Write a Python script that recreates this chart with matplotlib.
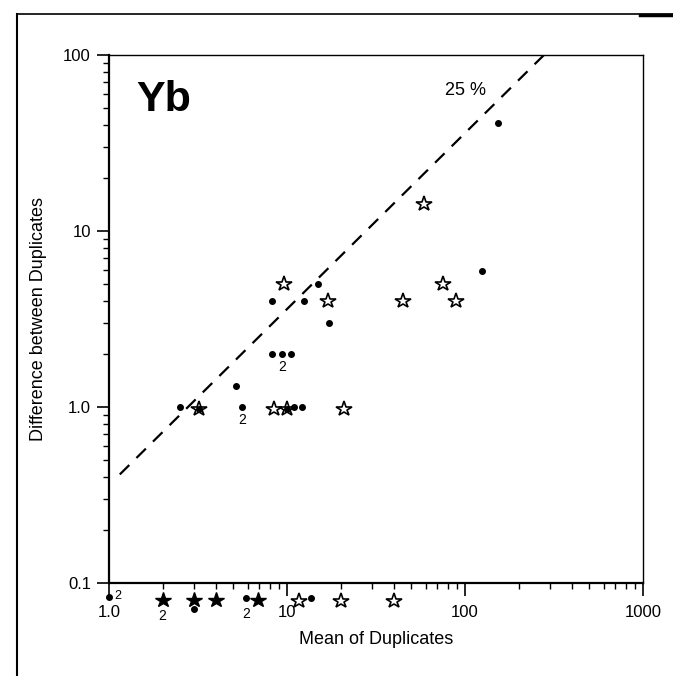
import numpy as np
import matplotlib.pyplot as plt
from matplotlib.lines import Line2D

plt.rcParams['font.family'] = ['Liberation Sans', 'DejaVu Sans']

# samples above detection limit (dots and open stars)
dot_x = [2.5, 5.6, 5.15, 8.2, 12.5, 15.0, 17.3, 8.2, 9.4, 10.5, 10.0, 11.0, 12.2, 125, 154, 3.2]
dot_y = [1.0, 1.0, 1.32, 4.0, 4.0, 5.0, 3.0, 2.0, 2.0, 2.0, 0.98, 1.0, 1.0, 5.9, 41, 0.98]
star_x = [3.2, 8.4, 10.0, 21, 9.6, 17, 45, 89, 75, 59]
star_y = [0.98, 0.98, 0.98, 0.98, 5.0, 4.0, 4.0, 4.0, 5.0, 14.2]

# zero differences, plotted under the axis
bdl_dot_x = [1.0, 3.0, 5.9, 13.7]
bdl_dot_y = [0.083, 0.071, 0.082, 0.082]
bdl_fstar_x = [2.0, 3.0, 4.0, 6.9]
bdl_fstar_y = [0.08, 0.08, 0.08, 0.08]
bdl_ostar_x = [11.7, 20, 40]
bdl_ostar_y = [0.079, 0.079, 0.079]

# "2" = two coincident samples
count_x = [5.6, 9.4, 2.0, 5.9]
count_y = [1.0, 2.0, 0.08, 0.082]
count_right_x, count_right_y = 1.0, 0.083

line_pct = 0.36
line_x = [1.15, 278]

fig = plt.figure(figsize=(6.73, 6.76), dpi=100)
ax = fig.add_axes([109 / 673, 1 - 583 / 676, 534 / 673, 528 / 676])
ax.set_xscale('log')
ax.set_yscale('log')
ax.set_xlim(1, 1000)
ax.set_ylim(0.1, 100)

ax.plot(line_x, [line_pct * v for v in line_x], color='black', lw=1.6,
        dashes=(6, 4.5))

ax.plot(star_x, star_y, ls='none', marker='*', ms=11.5, mfc='white', mec='black', mew=1.2)
ax.plot(dot_x, dot_y, ls='none', marker='o', ms=4, color='black')

ax.plot(bdl_dot_x, bdl_dot_y, ls='none', marker='o', ms=4, color='black', clip_on=False)
ax.plot(bdl_fstar_x, bdl_fstar_y, ls='none', marker='*', ms=11.5, color='black', clip_on=False)
ax.plot(bdl_ostar_x, bdl_ostar_y, ls='none', marker='*', ms=11.5, mfc='white', mec='black',
        mew=1.2, clip_on=False)

for cx, cy in zip(count_x, count_y):
    off = -9 if cy > 0.5 else -11.5
    ax.annotate('2', (cx, cy), xytext=(0, off), textcoords='offset points',
                ha='center', va='center', fontsize=10, annotation_clip=False)
ax.annotate('2', (count_right_x, count_right_y), xytext=(6.5, 1), textcoords='offset points',
            ha='center', va='center', fontsize=9, annotation_clip=False)

ax.text(0.052, 0.915, 'Yb', transform=ax.transAxes, fontsize=31, fontweight='bold',
        ha='left', va='center')
ax.text(0.667, 0.933, '25 %', transform=ax.transAxes, fontsize=13, ha='center', va='center')

ax.set_xticks([1, 10, 100, 1000])
ax.set_xticklabels(['1.0', '10', '100', '1000'])
ax.set_yticks([0.1, 1, 10, 100])
ax.set_yticklabels(['0.1', '1.0', '10', '100'])
ax.tick_params(which='major', direction='out', length=9, width=1.2, labelsize=12, pad=4)
ax.tick_params(axis='x', which='major', pad=6.5)
ax.tick_params(which='minor', direction='out', length=4.5, width=1.0)
for s in ['left', 'bottom']:
    ax.spines[s].set_linewidth(1.6)
for s in ['right', 'top']:
    ax.spines[s].set_linewidth(1.0)

ax.set_xlabel('Mean of Duplicates', fontsize=13, labelpad=8)
ax.set_ylabel('Difference between Duplicates', fontsize=13, labelpad=12)

# panel frame
fig.add_artist(Line2D([17 / 673, 17 / 673], [0, 1 - 14 / 676], color='black', lw=1.5,
                      transform=fig.transFigure))
fig.add_artist(Line2D([17 / 673, 1], [1 - 14 / 676, 1 - 14 / 676], color='black', lw=1.2,
                      transform=fig.transFigure))
fig.add_artist(Line2D([640 / 673, 1], [1 - 15 / 676, 1 - 15 / 676], color='black', lw=2.5,
                      transform=fig.transFigure))

fig.savefig('out.png', dpi=100)
